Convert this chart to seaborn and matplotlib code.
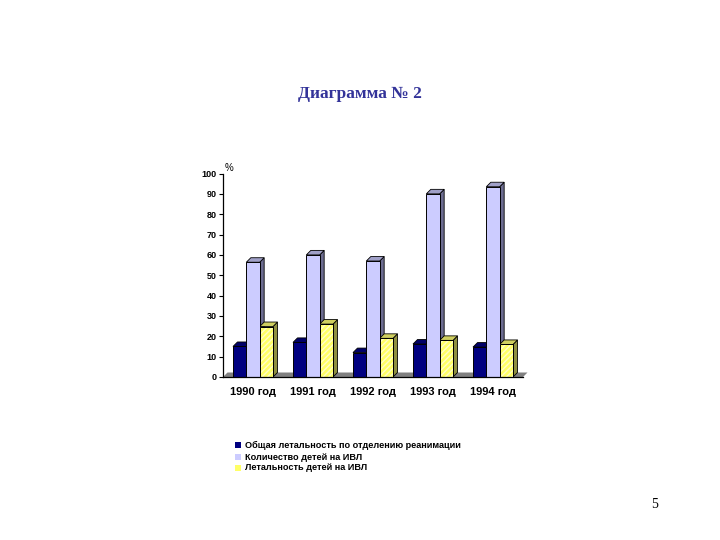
import pandas as pd
import matplotlib
matplotlib.use("Agg")
import matplotlib.pyplot as plt
import seaborn as sns
from matplotlib.patches import Polygon, Rectangle

years = ['1990 год', '1991 год', '1992 год', '1993 год', '1994 год']
series_names = ['Общая летальность по отделению реанимации',
                'Количество детей на ИВЛ',
                'Летальность детей на ИВЛ']
total_mortality = [15, 17, 12, 16.2, 14.7]
ventilated = [56.4, 60, 57, 90, 93.5]
ventilated_mortality = [24.8, 26, 19, 18, 16]

colors = ['#000080', '#ccccff', '#ffff66']
side_colors = ['#000050', '#6c6c90', '#8f8f40']
top_colors = ['#000068', '#a0a0c8', '#cfcf60']

df = pd.DataFrame({
    'year': years * 3,
    'value': total_mortality + ventilated + ventilated_mortality,
    'series': [s for s in series_names for _ in years],
})

sns.set_theme(style="white")
plt.rcParams['font.family'] = ['Liberation Sans', 'DejaVu Sans']

fig = plt.figure(figsize=(7.2, 5.4), dpi=100)
ax = fig.add_axes([223 / 720, 1 - 377 / 540, 300 / 720, 203.5 / 540])
sns.barplot(data=df, x='year', y='value', hue='series', hue_order=series_names,
            palette=colors, saturation=1, width=2 / 3, gap=0, ax=ax,
            edgecolor='black', linewidth=0.7, legend=False)

ax.set_xlim(-0.5, 4.5)
ax.set_ylim(0, 100)
ax.set_yticks(range(0, 101, 10))
ax.set_xticks([x - 0.5 for x in range(6)], minor=True)
ax.set_xlabel('')
ax.set_ylabel('')
ax.tick_params(axis='x', which='major', length=0, pad=7, labelsize=8, colors='black')
ax.tick_params(axis='x', which='minor', length=3, width=0.8, color='black')
ax.tick_params(axis='y', length=3, width=0.8, color='black', pad=1.5, labelsize=6.5, labelcolor='black')
ax.tick_params(left=True)
for lab in ax.get_xticklabels() + ax.get_yticklabels():
    lab.set_fontweight('bold')
sns.despine(ax=ax)
for side in ['left', 'bottom']:
    ax.spines[side].set_color('black')
    ax.spines[side].set_linewidth(0.9)
    ax.spines[side].set_zorder(6)

# fake 3D depth, 4.5 px up and to the right of each bar
dx = 4.5 * 5 / 300
dy = 4.5 * 100 / 203.5
bars = [b for c in ax.containers for b in c]
for i, bar in enumerate(bars):
    k = i // len(years)
    x0, w, h = bar.get_x(), bar.get_width(), bar.get_height()
    x1 = x0 + w
    side = Polygon([(x1, 0), (x1 + dx, dy), (x1 + dx, h + dy), (x1, h)],
                   facecolor=side_colors[k], edgecolor='black', lw=0.6,
                   clip_on=False, zorder=bar.get_zorder() - 0.1 + i * 0.001)
    top = Polygon([(x0, h), (x0 + dx, h + dy), (x1 + dx, h + dy), (x1, h)],
                  facecolor=top_colors[k], edgecolor='black', lw=0.6,
                  clip_on=False, zorder=bar.get_zorder() - 0.1 + i * 0.001)
    ax.add_patch(side)
    ax.add_patch(top)
    bar.set_zorder(bar.get_zorder() + i * 0.001)
    if k == 2:
        # pale diagonal hatch on the yellow bars
        ax.add_patch(Rectangle((x0, 0), w, h, facecolor='none', edgecolor='#fffdc8',
                               hatch='//////', lw=0, zorder=bar.get_zorder() + 0.01))
        ax.add_patch(Rectangle((x0, 0), w, h, facecolor='none', edgecolor='black',
                               lw=0.7, zorder=bar.get_zorder() + 0.02))

# grey floor between the groups
ax.add_patch(Polygon([(-0.5, 0), (-0.5 + dx, dy), (4.5 + dx, dy), (4.5, 0)],
                     facecolor='#808080', edgecolor='none', clip_on=False, zorder=0.5))

ax.text(229 / 720, 1 - 168 / 540, '%', transform=fig.transFigure, fontsize=7,
        ha='center', va='center', color='black')

fig.text(360 / 720, 1 - 94 / 540, 'Диаграмма № 2', family=['Liberation Serif'],
         fontsize=12.5, fontweight='bold', color='#333399', ha='center', va='center')
fig.text(655 / 720, 1 - 505 / 540, '5', family=['Liberation Serif'],
         fontsize=10, color='black', ha='center', va='center')

# legend
legend_y = [445, 457, 468]
for name, color, y in zip(series_names, colors, legend_y):
    fig.patches.append(Rectangle((235 / 720, 1 - (y + 3) / 540), 6 / 720, 6 / 540,
                                 transform=fig.transFigure, facecolor=color,
                                 edgecolor='none', figure=fig))
    fig.text(245 / 720, 1 - y / 540, name, fontsize=6.6, fontweight='bold',
             color='black', ha='left', va='center')

fig.savefig('out.png', dpi=100)
plt.close(fig)
